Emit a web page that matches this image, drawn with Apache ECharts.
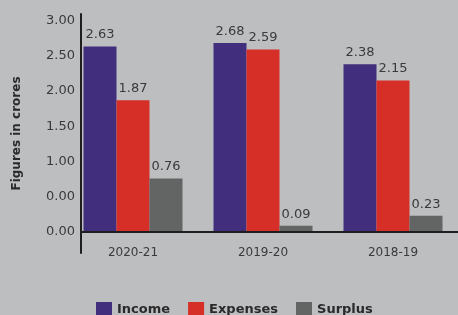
<!DOCTYPE html>
<html>
<head>
<meta charset="utf-8">
<script src="https://cdn.jsdelivr.net/npm/echarts@6/dist/echarts.min.js"></script>
<style>
  html, body { margin: 0; padding: 0; background: #bdbec0; }
  #chart { width: 458px; height: 315px; }
</style>
</head>
<body>
<div id="chart"></div>
<script>
// data
const categories = ['2020-21', '2019-20', '2018-19'];
const income = [2.63, 2.68, 2.38];
const expenses = [1.87, 2.59, 2.15];
const surplus = [0.76, 0.09, 0.23];
const yTickValues = [0, 0.5, 1, 1.5, 2, 2.5, 3];
const yTickLabels = ['0.00', '0.00', '1.00', '1.50', '2.00', '2.50', '3.00'];

const font = 'DejaVu Sans';
const textColor = '#3a3a3a';
const axisColor = '#1e1e1e';

let myChart = echarts.init(document.getElementById('chart'));

let barLabel = {
  show: true,
  position: 'top',
  distance: 5,
  color: textColor,
  fontFamily: font,
  fontSize: 13,
  formatter: p => p.value.toFixed(2)
};

let option = {
  backgroundColor: '#bdbec0',
  animation: false,
  textStyle: { fontFamily: font },
  grid: { left: 68, right: 0, top: 14, bottom: 62 },
  legend: {
    data: ['Income', 'Expenses', 'Surplus'],
    left: 91,
    top: 297,
    itemWidth: 16,
    itemHeight: 16,
    itemGap: 18,
    icon: 'rect',
    textStyle: { color: '#2a2a2a', fontFamily: font, fontSize: 13, fontWeight: 'bold' }
  },
  xAxis: {
    type: 'category',
    data: categories,
    axisLine: { show: false },
    axisTick: { show: false },
    // labels sit just under the zero line, which is above the grid bottom
    axisLabel: { color: textColor, fontFamily: font, fontSize: 12, margin: -6 }
  },
  yAxis: {
    type: 'value',
    min: -0.298,
    max: 3.092,
    offset: -13,
    name: 'Figures in crores',
    nameLocation: 'middle',
    nameRotate: 90,
    nameGap: 58,
    nameTextStyle: { color: '#2a2a2a', fontFamily: font, fontSize: 12, fontWeight: 'bold' },
    axisLine: { show: true, lineStyle: { color: axisColor, width: 2 } },
    axisTick: { show: false },
    splitLine: { show: false },
    axisLabel: {
      customValues: yTickValues,
      color: textColor,
      fontFamily: font,
      fontSize: 13,
      margin: 6,
      formatter: v => yTickLabels[yTickValues.indexOf(v)]
    }
  },
  series: [
    { name: 'Income', type: 'bar', data: income, barWidth: 33, barGap: '0%', color: '#412e7c', label: barLabel },
    { name: 'Expenses', type: 'bar', data: expenses, barWidth: 33, barGap: '0%', color: '#d52f28', label: barLabel },
    { name: 'Surplus', type: 'bar', data: surplus, barWidth: 33, barGap: '0%', color: '#636564', label: barLabel }
  ]
};

myChart.setOption(option);

// x axis line starts at the y axis, not at the grid edge
let zeroY = myChart.convertToPixel({ yAxisIndex: 0 }, 0);
myChart.setOption({
  graphic: [{
    type: 'line',
    shape: { x1: 81, y1: zeroY, x2: 458, y2: zeroY },
    style: { stroke: axisColor, lineWidth: 2 },
    z: 10
  }]
});
</script>
</body>
</html>
